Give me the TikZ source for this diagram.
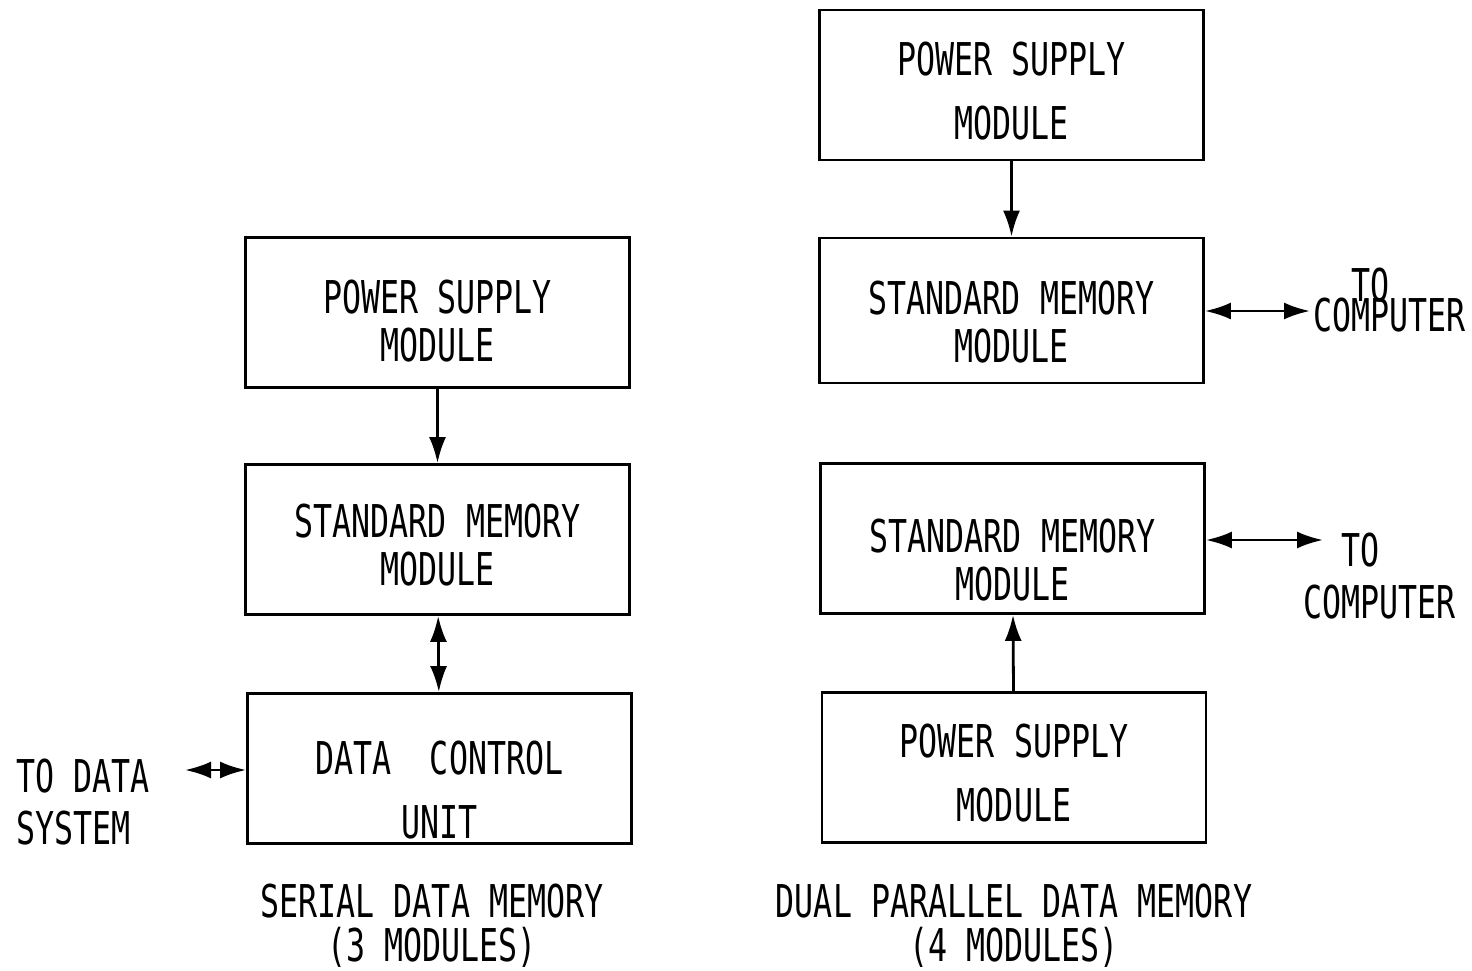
\documentclass[tikz,border=0pt]{standalone}
\usepackage{fontspec}
\newfontfamily\typer{DejaVu Sans Mono}[FakeStretch=0.7]
\usetikzlibrary{arrows.meta}
\newcommand\dn[1]{\rule{0pt}{\dimexpr16.5pt+#1*2\relax}}
\tikzset{
    blk/.style={draw, line width=1.4pt, minimum width=192pt, minimum height=75pt, align=center, inner sep=0pt},
    lbl/.style={font=\typer\fontsize{22.6}{24}\selectfont},
    head/.tip={Latex[length=13pt,width=8.5pt]}}

\begin{document}
\begin{tikzpicture}[x=0.5pt,y=-0.5pt,line width=1.4pt]
\useasboundingbox (0,0) rectangle (1472,970);

\node[blk,lbl] (ps1) at (437.5,312.5) {\dn{4.5pt}POWER SUPPLY\\MODULE};
\node[blk,lbl] (sm1) at (437.5,539.5) {\dn{3pt}STANDARD MEMORY\\MODULE};
\node[blk,lbl] (dcu) at (439.5,768.5) {\dn{11pt}DATA\ \ CONTROL\\[8pt]UNIT};

\node[blk,lbl] (ps2) at (1011.5,85) {\dn{3pt}POWER SUPPLY\\[8pt]MODULE};
\node[blk,lbl,minimum height=72.5pt] (sm2) at (1011.5,310.5) {\dn{6pt}STANDARD MEMORY\\MODULE};
\node[blk,lbl] (sm3) at (1012.5,538.5) {\dn{11pt}STANDARD MEMORY\\MODULE};
\node[blk,lbl] (ps3) at (1014,767.5) {\dn{3pt}POWER SUPPLY\\[8pt]MODULE};

\node[lbl,align=left,anchor=west,inner sep=0pt] (tods) at (15,802) {TO DATA\\[2pt]SYSTEM};
\node[lbl,align=left,anchor=west,inner sep=0pt] (toc1) at (1312,300) {\phantom{CO}TO\\[-9pt]COMPUTER};
\node[lbl,align=left,anchor=west,inner sep=0pt] (toc2) at (1302,576) {\phantom{CO}TO\\[2pt]COMPUTER};

\node[lbl,align=center] (cap1) at (432,926) {SERIAL DATA MEMORY\\[-2pt](3 MODULES)};
\node[lbl,align=center] (cap2) at (1014,926) {DUAL PARALLEL DATA MEMORY\\[-2pt](4 MODULES)};

\coordinate (ds) at (185,770);
\coordinate (c1) at (1310,311);
\coordinate (c2) at (1323,540);

\draw [-head] (ps1) -- (sm1);
\draw [head-head] (sm1) -- (dcu);
\draw [head-head] (dcu.west |- ds) -- (ds);
\draw [-head] (ps2) -- (sm2);
\draw [head-head] (sm2.east |- c1) -- (c1);
\draw [head-head] (sm3.east |- c2) -- (c2);
\draw [-head] (ps3) -- (sm3);
\end{tikzpicture}
\end{document}
